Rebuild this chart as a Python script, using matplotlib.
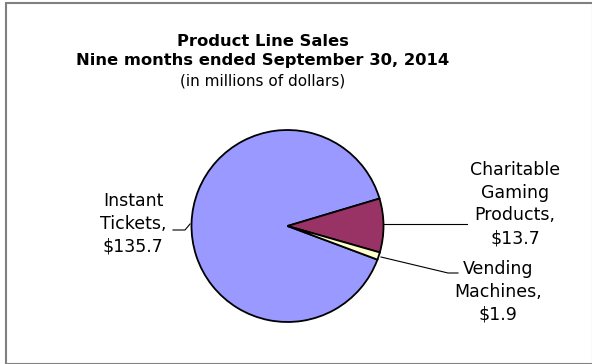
import matplotlib
matplotlib.use("Agg")
import matplotlib.pyplot as plt
from matplotlib.patches import Rectangle

categories = ["Instant Tickets", "Charitable Gaming Products", "Vending Machines"]
values = [135.7, 13.7, 1.9]
labels = ["Instant\nTickets,\n$135.7", "Charitable\nGaming\nProducts,\n$13.7", "Vending\nMachines,\n$1.9"]
colors = ["#9999FF", "#993366", "#FFFFCC"]

W, H = 592, 364
fig = plt.figure(figsize=(W / 100, H / 100), dpi=100)
ax = fig.add_axes([0, 0, 1, 1])

def Y(y):
    return H - y

cx, cy, r = 287.5, 226, 96
ax.pie(values, colors=colors, startangle=339.5, counterclock=False,
       center=(cx, Y(cy)), radius=r,
       wedgeprops=dict(edgecolor="black", linewidth=1.3), frame=True)
ax.set_xlim(0, W)
ax.set_ylim(0, H)
ax.set_aspect("auto")
ax.axis("off")

fam = ["DejaVu Sans"]
ax.text(263, Y(41), "Product Line Sales", ha="center", va="center",
        fontsize=11.8, fontweight="bold", family=fam)
ax.text(263, Y(61), "Nine months ended September 30, 2014", ha="center", va="center",
        fontsize=11.8, fontweight="bold", family=fam)
ax.text(263, Y(81), "(in millions of dollars)", ha="center", va="center",
        fontsize=11, family=fam)

lbl_kw = dict(ha="center", va="center", fontsize=12.5, family=fam, linespacing=1.35)
ax.text(133, Y(224), labels[0], **lbl_kw)
ax.text(515, Y(204), labels[1], **lbl_kw)
ax.text(498, Y(292), labels[2], **lbl_kw)

# leader lines
ax.plot([173, 185, 190], [Y(230), Y(230), Y(224)], color="black", lw=0.8)
ax.plot([384, 467], [Y(224), Y(224)], color="black", lw=0.8)
ax.plot([381, 448, 458], [Y(257), Y(273), Y(273)], color="black", lw=0.8)

# chart border
ax.add_patch(Rectangle((5.5, 0.5), W - 5, H - 3, fill=False,
                       edgecolor="#808080", lw=1.5))

fig.savefig("out.png", dpi=100)
